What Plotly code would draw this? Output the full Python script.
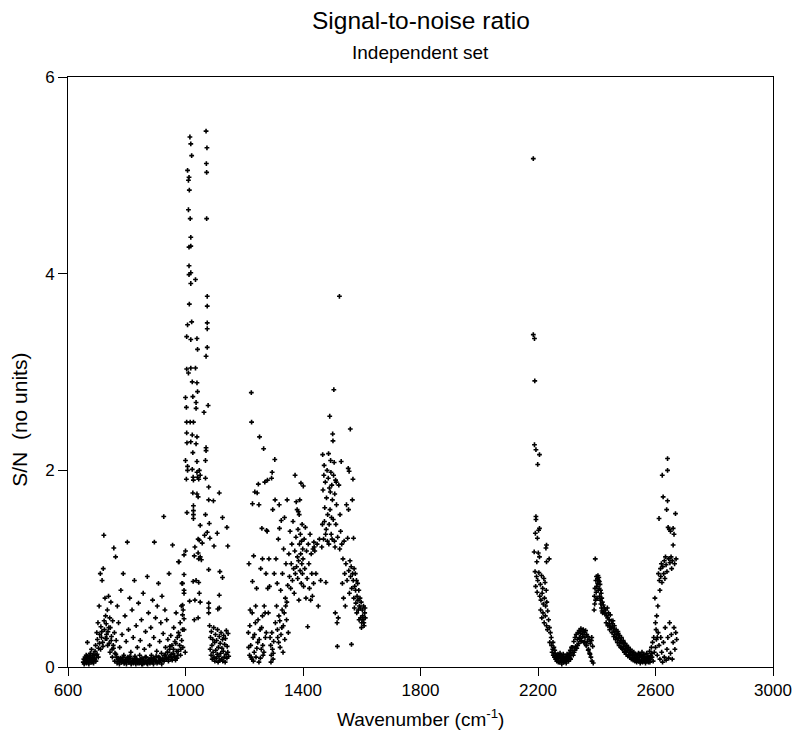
import plotly.graph_objects as go

# Wavenumber (cm^-1), S/N pairs, grouped by spectral band
band_650_1000 = [
    (652, 0.05), (654, 0.08), (656, 0.04), (658, 0.10), (660, 0.06), (662, 0.12), (664, 0.07), (666, 0.25), (668, 0.09), (670, 0.05),
    (672, 0.11), (674, 0.06), (676, 0.14), (678, 0.08), (680, 0.18), (682, 0.05), (684, 0.10), (686, 0.07), (688, 0.13), (690, 0.09),
    (692, 0.16), (694, 0.22), (696, 0.12), (698, 0.35), (700, 0.28), (702, 0.45), (704, 0.19), (706, 0.62), (708, 0.33), (710, 0.95),
    (712, 0.41), (714, 0.30), (716, 0.88), (718, 0.25), (720, 1.00), (722, 1.34), (724, 0.38), (726, 0.70), (728, 0.52), (730, 0.44),
    (732, 0.29), (734, 0.58), (736, 0.36), (738, 0.72), (740, 0.24), (742, 0.50), (744, 0.40), (746, 0.66), (748, 0.31), (750, 0.18),
    (752, 0.47), (754, 0.22), (756, 1.21), (758, 0.35), (760, 0.14), (762, 1.12), (764, 0.27), (766, 0.10), (768, 0.62), (770, 0.08),
    (772, 0.45), (774, 0.06), (776, 0.20), (778, 0.09), (780, 0.78), (782, 0.05), (784, 0.33), (786, 0.07), (788, 0.95), (790, 0.12),
    (792, 0.04), (794, 0.52), (796, 0.08), (798, 0.26), (800, 0.06), (802, 1.27), (804, 0.10), (806, 0.38), (808, 0.05), (810, 0.70),
    (812, 0.09), (814, 0.15), (816, 0.04), (818, 0.58), (820, 0.07), (822, 0.30), (824, 0.06), (826, 0.88), (828, 0.11), (830, 0.05),
    (832, 0.42), (834, 0.08), (836, 0.20), (838, 0.04), (840, 0.65), (842, 0.06), (844, 0.12), (846, 0.27), (848, 0.05), (850, 0.48),
    (852, 0.09), (854, 0.03), (856, 0.75), (858, 0.07), (860, 0.18), (862, 0.05), (864, 0.36), (866, 0.10), (868, 0.04), (870, 0.92),
    (872, 0.06), (874, 0.55), (876, 0.08), (878, 0.22), (880, 0.05), (882, 0.40), (884, 0.12), (886, 0.06), (888, 0.68), (890, 0.09),
    (892, 0.30), (894, 1.27), (896, 0.07), (898, 0.50), (900, 0.11), (902, 0.16), (904, 0.62), (906, 0.05), (908, 0.85), (910, 0.10),
    (912, 0.26), (914, 0.08), (916, 0.45), (918, 0.14), (920, 0.72), (922, 0.07), (924, 0.34), (926, 1.53), (928, 0.12), (930, 0.58),
    (932, 0.20), (934, 0.09), (936, 0.48), (938, 0.15), (940, 0.28), (942, 0.06), (944, 0.95), (946, 0.18), (948, 0.11), (950, 0.32),
    (952, 0.08), (954, 0.22), (956, 1.24), (958, 0.14), (960, 0.40), (962, 0.10), (964, 0.26), (966, 0.07), (968, 0.55), (970, 0.16),
    (972, 0.30), (974, 0.12), (976, 0.35), (978, 1.07), (980, 0.22), (982, 0.45), (984, 0.18), (986, 0.62), (988, 0.85), (990, 0.38),
    (655, 0.03), (659, 0.07), (663, 0.04), (667, 0.11), (671, 0.03), (675, 0.09), (679, 0.05), (683, 0.12), (687, 0.04), (691, 0.08),
    (695, 0.06), (699, 0.13), (703, 0.10), (707, 0.24), (711, 0.18), (715, 0.36), (719, 0.21), (723, 0.47), (727, 0.29), (731, 0.33),
    (735, 0.22), (739, 0.40), (743, 0.15), (747, 0.27), (751, 0.10), (755, 0.19), (759, 0.06), (763, 0.13), (767, 0.04), (771, 0.09),
    (775, 0.03), (779, 0.07), (783, 0.05), (787, 0.10), (791, 0.04), (795, 0.06), (799, 0.03), (803, 0.08), (807, 0.05), (811, 0.11),
    (815, 0.03), (819, 0.06), (823, 0.04), (827, 0.09), (831, 0.03), (835, 0.07), (839, 0.05), (843, 0.04), (847, 0.08), (851, 0.03),
    (855, 0.06), (859, 0.04), (863, 0.10), (867, 0.05), (871, 0.03), (875, 0.07), (879, 0.04), (883, 0.09), (887, 0.05), (891, 0.03),
    (895, 0.08), (899, 0.06), (903, 0.04), (907, 0.10), (911, 0.05), (915, 0.07), (919, 0.03), (923, 0.09), (927, 0.06), (931, 0.12),
    (935, 0.08), (939, 0.15), (943, 0.10), (947, 0.21), (951, 0.13), (955, 0.07), (959, 0.18), (963, 0.11), (967, 0.24), (971, 0.09),
    (975, 0.16), (979, 0.32), (983, 0.12), (987, 0.27), (991, 0.20), (995, 0.38), (999, 0.15),
]

band_1000_1150 = [
    (1070, 5.45), (1015, 5.39), (1018, 5.32), (1073, 5.28), (1021, 5.20), (1071, 5.12), (1007, 5.05), (1072, 5.03), (1012, 4.98),
    (1010, 4.95), (1013, 4.85), (1010, 4.65), (1016, 4.56), (1072, 4.56), (1018, 4.37), (1012, 4.27), (1018, 4.28), (1012, 4.08),
    (1018, 4.01), (1012, 3.99), (1034, 3.94), (1018, 3.90), (1074, 3.77), (1013, 3.69), (1074, 3.67), (1021, 3.51), (1007, 3.48),
    (1074, 3.50), (1074, 3.44), (1004, 3.36), (1018, 3.33), (1039, 3.34), (1041, 3.23), (1074, 3.25), (1070, 3.16), (1004, 3.03),
    (1010, 2.99), (1018, 3.04), (1034, 3.04), (1023, 2.90), (1039, 2.89), (1041, 2.80), (1000, 2.74), (1025, 2.75), (1036, 2.69),
    (1003, 2.64), (1036, 2.63), (1077, 2.66), (1063, 2.59), (1004, 2.49), (1016, 2.49), (1027, 2.49), (1004, 2.38), (1023, 2.36),
    (1039, 2.34), (1005, 2.28), (1018, 2.29), (1036, 2.27), (1070, 2.23), (1070, 2.20), (1025, 2.18), (1000, 2.10), (1039, 2.09),
    (1068, 2.10), (1007, 2.04), (1007, 2.00), (1023, 2.01), (1039, 1.98), (1047, 2.00), (1003, 1.91), (1026, 1.93), (1041, 1.93),
    (1050, 1.95), (1027, 1.90), (1045, 1.91), (1068, 1.92), (1025, 1.77), (1039, 1.76), (1043, 1.73), (1079, 1.83), (1115, 1.77),
    (1079, 1.70), (1095, 1.69), (1027, 1.64), (1027, 1.59), (1027, 1.55), (1027, 1.51), (1005, 1.57), (1068, 1.55), (1126, 1.52),
    (1050, 1.44), (1081, 1.46), (1141, 1.42), (1074, 1.37), (1065, 1.34), (1083, 1.31), (1043, 1.30), (1047, 1.29), (1057, 1.26),
    (1108, 1.36), (1097, 1.23), (1144, 1.23), (1000, 1.18), (995, 1.14), (1032, 1.22), (1043, 1.16), (1050, 1.12), (1030, 1.13),
    (976, 1.07), (1054, 1.09), (1045, 1.10), (1079, 0.99), (1117, 0.97), (1126, 0.91), (995, 0.94), (990, 0.85), (995, 0.78),
    (995, 0.75), (1026, 0.87), (1036, 0.88), (1045, 0.86), (1047, 0.75), (1032, 0.68), (1014, 0.67), (1050, 0.66), (1079, 0.65),
    (1079, 0.60), (1079, 0.55), (1115, 0.73), (1115, 0.60), (1110, 0.59), (990, 0.63), (992, 0.58), (990, 0.53), (995, 0.49),
    (1030, 0.48), (1043, 0.50),
    (1082, 0.42), (1084, 0.18), (1085, 0.30), (1087, 0.12), (1088, 0.36), (1090, 0.22), (1091, 0.08), (1093, 0.28), (1094, 0.15),
    (1096, 0.40), (1097, 0.10), (1099, 0.25), (1100, 0.06), (1102, 0.33), (1103, 0.17), (1105, 0.09), (1106, 0.27), (1108, 0.13),
    (1109, 0.38), (1111, 0.05), (1112, 0.20), (1114, 0.11), (1115, 0.31), (1117, 0.07), (1118, 0.24), (1120, 0.14), (1121, 0.35),
    (1123, 0.08), (1124, 0.19), (1126, 0.28), (1127, 0.06), (1129, 0.16), (1130, 0.32), (1132, 0.10), (1133, 0.23), (1135, 0.05),
    (1136, 0.29), (1138, 0.13), (1139, 0.37), (1141, 0.09), (1142, 0.21), (1144, 0.15), (1145, 0.34), (1147, 0.11),
]

band_1200_1620 = [
    (1214, 0.35), (1216, 1.05), (1218, 0.12), (1220, 0.58), (1222, 0.22), (1224, 2.79), (1226, 0.08), (1228, 0.87), (1230, 0.30),
    (1232, 1.13), (1234, 0.15), (1236, 1.78), (1238, 0.45), (1240, 0.10), (1242, 0.80), (1244, 1.77), (1246, 0.25), (1248, 1.86),
    (1250, 0.05), (1252, 2.34), (1254, 0.38), (1256, 1.00), (1258, 0.18), (1260, 1.41), (1262, 0.52), (1264, 0.12), (1266, 2.22),
    (1268, 0.62), (1270, 1.88), (1272, 0.30), (1274, 0.95), (1276, 1.39),
    (1225, 2.49), (1228, 1.66), (1250, 1.65), (1262, 1.10), (1279, 1.90), (1215, 0.20), (1219, 0.42), (1223, 0.10), (1227, 0.55),
    (1231, 0.06), (1235, 0.33), (1239, 0.62), (1243, 0.19), (1247, 0.48), (1251, 0.28), (1255, 0.09), (1259, 0.40), (1263, 0.22),
    (1267, 0.15), (1271, 0.55), (1275, 0.35),
    (1278, 1.38), (1280, 0.80), (1282, 0.55), (1284, 1.10), (1286, 0.82), (1288, 0.30), (1290, 0.22), (1292, 0.12), (1293, 1.92),
    (1294, 0.35), (1295, 1.98), (1296, 0.18), (1297, 1.60), (1298, 0.08), (1300, 0.26), (1291, 0.05), (1299, 0.14),
    (1302, 0.95), (1304, 2.11), (1305, 1.70), (1306, 0.45), (1308, 1.10), (1310, 0.62), (1312, 0.85), (1314, 0.30), (1316, 1.30),
    (1318, 0.52), (1319, 1.65), (1320, 1.41), (1322, 0.20), (1324, 0.78), (1326, 1.49), (1328, 0.40), (1330, 0.95), (1332, 0.15),
    (1334, 1.20), (1336, 0.55), (1337, 1.52), (1338, 0.28), (1340, 0.70), (1342, 1.05), (1344, 0.48), (1346, 1.70), (1348, 0.83),
    (1350, 0.35), (1313, 0.38), (1317, 0.25), (1321, 0.47), (1325, 0.33), (1329, 0.58), (1333, 0.42), (1341, 0.62), (1345, 0.66),
    (1352, 1.15), (1354, 0.92), (1356, 1.38), (1358, 0.80), (1360, 1.05), (1362, 1.25), (1364, 0.88), (1366, 1.48), (1368, 1.00),
    (1370, 0.75), (1372, 1.18), (1373, 1.95), (1374, 0.95), (1376, 1.32), (1377, 1.68), (1378, 1.02), (1380, 1.60), (1381, 1.12),
    (1382, 0.90), (1383, 1.40), (1384, 1.58), (1385, 1.08), (1386, 0.68), (1387, 1.55), (1388, 1.25), (1389, 1.70), (1390, 0.98),
    (1391, 1.35), (1392, 1.15), (1393, 1.87), (1394, 0.85), (1395, 1.28), (1396, 1.05), (1397, 1.45), (1398, 0.95), (1399, 1.20),
    (1400, 1.10), (1401, 1.84), (1402, 0.82), (1404, 1.30), (1406, 1.00), (1408, 1.42), (1410, 0.70), (1412, 1.18), (1414, 0.90),
    (1416, 0.41), (1418, 1.25), (1420, 1.05), (1422, 0.80), (1424, 1.35), (1426, 0.68), (1428, 1.15), (1430, 0.95), (1432, 0.72),
    (1434, 1.20), (1436, 0.85), (1437, 1.27), (1438, 1.22), (1440, 1.18),
    (1444, 0.95), (1448, 1.25), (1452, 0.62), (1456, 1.30), (1460, 0.88), (1464, 1.22),
    (1466, 1.45), (1467, 2.16), (1468, 1.80), (1470, 1.30), (1471, 1.95), (1472, 2.05), (1474, 1.62), (1476, 1.88), (1478, 0.86),
    (1479, 1.40), (1480, 1.72), (1482, 2.00), (1484, 1.55), (1486, 1.92), (1487, 2.17), (1488, 1.25), (1490, 1.82), (1491, 2.55),
    (1492, 1.60), (1494, 2.10), (1495, 1.98), (1496, 1.35), (1498, 1.85), (1500, 1.70), (1501, 2.37), (1502, 2.30), (1503, 1.50),
    (1504, 1.95), (1505, 2.82), (1506, 2.08), (1507, 1.28), (1508, 1.76), (1510, 0.55), (1511, 1.90), (1512, 1.45), (1514, 1.65),
    (1516, 0.45), (1517, 0.21), (1518, 1.32), (1520, 0.50), (1522, 1.85), (1524, 3.77), (1525, 1.20), (1526, 1.55), (1528, 1.38),
    (1530, 2.09), (1473, 1.48), (1477, 1.35), (1483, 1.28), (1489, 1.45), (1493, 1.78), (1497, 1.52), (1499, 1.30), (1509, 1.22),
    (1513, 1.88),
    (1532, 1.25), (1534, 0.85), (1536, 1.10), (1538, 0.70), (1540, 1.28), (1542, 0.95), (1544, 0.62), (1546, 1.05), (1548, 1.65),
    (1550, 0.88), (1552, 1.31), (1554, 2.02), (1555, 1.60), (1556, 0.98), (1557, 1.99), (1558, 0.75), (1560, 1.08), (1561, 2.42),
    (1562, 0.92), (1564, 1.02), (1565, 0.23), (1566, 0.80), (1568, 1.70), (1569, 0.95), (1570, 1.91), (1571, 0.88), (1572, 1.31),
    (1573, 0.70), (1574, 1.00), (1576, 0.82), (1578, 0.95), (1580, 0.65), (1582, 0.88), (1584, 0.72), (1586, 0.85), (1588, 0.58),
    (1590, 0.78), (1592, 0.62), (1594, 0.70), (1596, 0.50), (1598, 0.66), (1600, 0.45), (1602, 0.58), (1604, 0.48), (1606, 0.62),
    (1608, 0.42), (1610, 0.55), (1612, 0.50), (1575, 0.60), (1579, 0.78), (1583, 0.55), (1587, 0.68), (1591, 0.48), (1595, 0.60),
    (1599, 0.40), (1603, 0.52), (1607, 0.45), (1611, 0.60),
]

band_2180_2680 = [
    (2184, 5.17), (2184, 3.38), (2188, 3.34), (2189, 2.91), (2188, 2.26), (2193, 2.21), (2205, 2.16), (2199, 2.06), (2193, 1.53),
    (2193, 1.50), (2202, 1.39), (2191, 1.36), (2205, 1.41), (2198, 1.31), (2229, 1.24), (2227, 1.21), (2187, 1.17), (2201, 1.16),
    (2205, 1.12), (2196, 1.07), (2229, 1.07), (2238, 1.10), (2190, 0.97), (2195, 0.92), (2199, 0.88), (2203, 0.96), (2208, 0.84),
    (2212, 0.93), (2216, 0.80), (2220, 0.90), (2224, 0.86), (2228, 0.78), (2192, 0.82), (2197, 0.76), (2206, 0.72), (2210, 0.68),
    (2214, 0.75), (2218, 0.64), (2222, 0.70), (2226, 0.62), (2230, 0.66), (2209, 0.58), (2217, 0.55), (2225, 0.52), (2233, 0.57),
    (2236, 0.48), (2213, 0.50), (2221, 0.45), (2229, 0.42), (2239, 0.40), (2242, 0.35), (2232, 0.38), (2245, 0.30), (2240, 0.25),
    (2246, 0.22), (2248, 0.15), (2250, 0.18), (2252, 0.12), (2254, 0.20), (2256, 0.10), (2258, 0.14), (2260, 0.08), (2262, 0.12),
    (2264, 0.06), (2266, 0.10), (2268, 0.13), (2270, 0.07), (2272, 0.11), (2274, 0.05), (2276, 0.09), (2278, 0.12), (2280, 0.06),
    (2282, 0.10), (2284, 0.08), (2286, 0.13), (2288, 0.05), (2290, 0.09), (2292, 0.11), (2294, 0.07), (2296, 0.04), (2298, 0.10),
    (2300, 0.08), (2302, 0.12), (2304, 0.06), (2306, 0.14), (2308, 0.09), (2310, 0.17), (2312, 0.12), (2314, 0.20), (2316, 0.15),
    (2251, 0.25), (2257, 0.17), (2263, 0.09), (2269, 0.05), (2275, 0.14), (2281, 0.03), (2287, 0.08), (2293, 0.06), (2299, 0.13),
    (2305, 0.10), (2311, 0.08),
    (2318, 0.20), (2320, 0.12), (2322, 0.26), (2324, 0.17), (2326, 0.30), (2328, 0.21), (2330, 0.33), (2332, 0.19), (2334, 0.28),
    (2336, 0.35), (2338, 0.24), (2340, 0.37), (2342, 0.29), (2344, 0.34), (2346, 0.39), (2348, 0.27), (2350, 0.36), (2352, 0.31),
    (2354, 0.38), (2356, 0.25), (2358, 0.35), (2360, 0.30), (2362, 0.37), (2364, 0.22), (2366, 0.33), (2368, 0.26), (2370, 0.31),
    (2372, 0.18), (2374, 0.28), (2376, 0.14), (2378, 0.24), (2380, 0.10), (2382, 0.27), (2384, 0.06), (2386, 0.21), (2388, 0.04),
    (2323, 0.15), (2329, 0.19), (2335, 0.22), (2341, 0.30), (2347, 0.26), (2353, 0.33), (2359, 0.25), (2365, 0.22), (2371, 0.17),
    (2377, 0.13), (2383, 0.30),
    (2391, 0.58), (2392, 0.72), (2393, 0.64), (2394, 0.80), (2395, 1.10), (2396, 0.68), (2397, 0.88), (2398, 0.76), (2399, 0.92),
    (2400, 0.82), (2401, 0.70), (2402, 0.90), (2403, 0.85), (2404, 0.93), (2405, 0.78), (2406, 0.88), (2407, 0.91), (2408, 0.80),
    (2409, 0.87), (2410, 0.72), (2411, 0.84), (2412, 0.68), (2413, 0.78), (2414, 0.64), (2415, 0.75), (2416, 0.60), (2417, 0.70),
    (2418, 0.57), (2419, 0.66), (2420, 0.55), (2422, 0.63), (2424, 0.56), (2426, 0.60), (2428, 0.54),
    (2430, 0.58), (2432, 0.45), (2434, 0.52), (2436, 0.60), (2438, 0.42), (2440, 0.55), (2442, 0.48), (2444, 0.38), (2446, 0.53),
    (2448, 0.41), (2450, 0.47), (2452, 0.35), (2454, 0.44), (2456, 0.39), (2458, 0.31), (2460, 0.42), (2462, 0.36), (2464, 0.28),
    (2466, 0.38), (2468, 0.33), (2470, 0.25), (2472, 0.36), (2474, 0.29), (2476, 0.22), (2478, 0.32), (2480, 0.27), (2482, 0.20),
    (2484, 0.30), (2486, 0.24), (2488, 0.18), (2490, 0.27), (2492, 0.21), (2494, 0.15), (2496, 0.24), (2498, 0.19), (2500, 0.13),
    (2502, 0.22), (2504, 0.17), (2506, 0.11), (2508, 0.20), (2510, 0.15), (2512, 0.10), (2514, 0.18), (2516, 0.13), (2518, 0.08),
    (2520, 0.16), (2522, 0.12), (2524, 0.07), (2526, 0.15), (2528, 0.10), (2530, 0.06), (2532, 0.13), (2534, 0.09), (2536, 0.05),
    (2538, 0.12), (2540, 0.08), (2542, 0.14), (2544, 0.06), (2546, 0.10), (2548, 0.04), (2550, 0.12), (2552, 0.07), (2554, 0.15),
    (2556, 0.05), (2558, 0.09), (2560, 0.13), (2562, 0.06), (2564, 0.11), (2566, 0.04), (2568, 0.09), (2570, 0.14), (2572, 0.07),
    (2574, 0.11), (2576, 0.05), (2578, 0.10), (2580, 0.16), (2582, 0.08), (2584, 0.12), (2586, 0.20), (2588, 0.10), (2590, 0.25),
    (2592, 0.06), (2594, 0.30), (2596, 0.15),
    (2437, 0.50), (2443, 0.44), (2449, 0.40), (2455, 0.47), (2461, 0.33), (2467, 0.30), (2473, 0.34), (2479, 0.25), (2485, 0.19),
    (2491, 0.25), (2497, 0.16), (2503, 0.19), (2509, 0.12), (2515, 0.15), (2521, 0.09), (2527, 0.12), (2533, 0.07), (2539, 0.10),
    (2545, 0.13), (2551, 0.06), (2557, 0.11), (2563, 0.08), (2569, 0.06), (2575, 0.09), (2581, 0.05), (2587, 0.14),
    (2598, 0.70), (2600, 0.45), (2602, 0.38), (2604, 0.52), (2606, 0.30), (2608, 0.62), (2610, 0.95), (2612, 1.51), (2613, 0.88),
    (2615, 0.78), (2617, 1.00), (2618, 0.92), (2620, 1.05), (2622, 0.86), (2623, 1.95), (2625, 1.02), (2626, 1.73), (2628, 0.95),
    (2630, 1.08), (2632, 0.90), (2634, 1.12), (2636, 1.04), (2638, 1.60), (2639, 0.97), (2641, 1.69), (2641, 2.00), (2641, 2.12),
    (2643, 1.42), (2645, 1.10), (2647, 1.40), (2649, 1.06), (2651, 1.38), (2653, 1.12), (2655, 1.00), (2657, 1.08), (2660, 1.41),
    (2660, 1.24), (2663, 1.35), (2665, 1.05), (2668, 1.56), (2670, 1.10),
    (2600, 0.20), (2603, 0.28), (2606, 0.12), (2609, 0.35), (2612, 0.22), (2615, 0.08), (2618, 0.30), (2621, 0.15), (2624, 0.05),
    (2627, 0.25), (2630, 0.10), (2633, 0.40), (2636, 0.07), (2639, 0.18), (2642, 0.30), (2645, 0.09), (2648, 0.45), (2651, 0.14),
    (2654, 0.33), (2657, 0.08), (2660, 0.25), (2663, 0.40), (2666, 0.18), (2669, 0.35), (2672, 0.28),
]

x_ticks = [600, 1000, 1400, 1800, 2200, 2600, 3000]
y_ticks = [0, 2, 4, 6]

title_text = "Signal-to-noise ratio"
subtitle_text = "Independent set"
x_title = "Wavenumber (cm<sup>-1</sup>)"
y_title = "S/N\u00a0\u00a0(no units)"

FONT = "Liberation Sans, Arial, Helvetica, sans-serif"

fig = go.Figure()
for band in (band_650_1000, band_1000_1150, band_1200_1620, band_2180_2680):
    fig.add_trace(go.Scatter(
        x=[p[0] for p in band],
        y=[p[1] for p in band],
        mode="markers",
        marker=dict(symbol="cross", size=4, color="black", line=dict(width=0)),
        showlegend=False,
        hoverinfo="x+y",
    ))

# page body has an 8px default margin: figure is 8px smaller, margins compensate
fig.update_layout(
    width=796, height=727,
    margin=dict(l=60, r=21, t=69, b=68),
    paper_bgcolor="white", plot_bgcolor="white",
    font=dict(family=FONT, color="black", size=16),
    annotations=[
        dict(text=title_text, xref="paper", yref="paper", x=0.5, y=1, xanchor="center", yanchor="middle",
             yshift=57, showarrow=False, font=dict(size=24.5, family=FONT, color="black")),
        dict(text=subtitle_text, xref="paper", yref="paper", x=0.5, y=1, xanchor="center", yanchor="middle",
             yshift=25, showarrow=False, font=dict(size=19, family=FONT, color="black")),
        dict(text=x_title, xref="paper", yref="paper", x=0.5, y=0, xanchor="center", yanchor="middle",
             yshift=-51, showarrow=False, font=dict(size=19, family=FONT, color="black")),
        dict(text=y_title, xref="paper", yref="paper", x=0, y=0.419, xanchor="center", yanchor="middle",
             xshift=-48, textangle=-90, showarrow=False, font=dict(size=21, family=FONT, color="black")),
    ],
)
fig.update_xaxes(
    range=[600, 3000], tickvals=x_ticks, ticktext=[str(v) for v in x_ticks],
    showline=True, linecolor="black", linewidth=1, mirror=True,
    ticks="outside", ticklen=8, tickwidth=1, tickcolor="black",
    showgrid=False, zeroline=False,
    tickfont=dict(size=17, family=FONT, color="black"),
)
fig.update_yaxes(
    range=[0, 6], tickvals=y_ticks, ticktext=[str(v) for v in y_ticks],
    showline=True, linecolor="black", linewidth=1, mirror=True,
    ticks="outside", ticklen=9, tickwidth=1, tickcolor="black",
    showgrid=False, zeroline=False,
    tickfont=dict(size=17, family=FONT, color="black"),
)

fig.write_html("out.html")
